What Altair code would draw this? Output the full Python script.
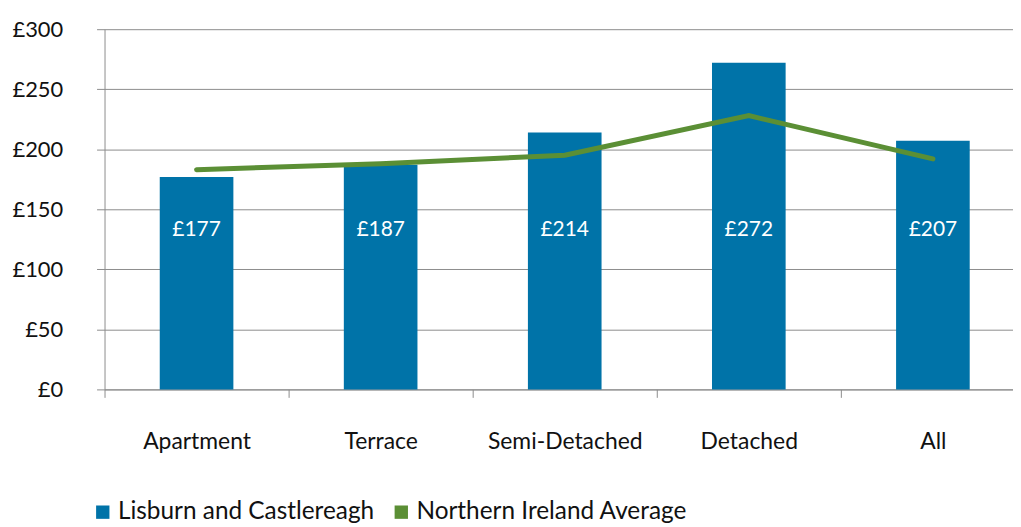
import altair as alt
import pandas as pd

categories = ["Apartment", "Terrace", "Semi-Detached", "Detached", "All"]
lisburn = [177, 187, 214, 272, 207]
ni_avg = [183, 188, 195, 228, 192]
series = ["Lisburn and Castlereagh", "Northern Ireland Average"]
y_ticks = [0, 50, 100, 150, 200, 250, 300]

FONT = "Lato"
BLUE = "#0073a8"
GREEN = "#5b8f35"

bars = pd.DataFrame({"cat": categories, "value": lisburn, "series": series[0]})
bars["label"] = ["£" + str(v) for v in lisburn]
line = pd.DataFrame({"cat": categories, "value": ni_avg, "series": series[1]})

x_enc = alt.X("cat:N", sort=categories, title=None,
              scale=alt.Scale(paddingInner=0, paddingOuter=0, range=[0, 925]),
              axis=alt.Axis(orient="bottom", labelAngle=0, tickBand="extent", labelFontSize=23,
                            labelPadding=33, tickSize=8, domainColor="#8c8c8c",
                            tickColor="#8c8c8c", labelColor="#111111", labelFont=FONT,
                            grid=False))
y_scale = alt.Scale(domain=[0, 300])
color = alt.Color("series:N",
                  scale=alt.Scale(domain=series, range=[BLUE, GREEN]),
                  legend=alt.Legend(title=None, orient="none", direction="horizontal",
                                    legendX=-14, legendY=473, symbolType="square",
                                    symbolSize=180, symbolStrokeWidth=0,
                                    labelFontSize=24.5, labelFont=FONT, labelColor="#111111",
                                    columnPadding=14, symbolOffset=0, labelOffset=3,
                                    labelLimit=400))

bar_layer = alt.Chart(bars).mark_bar(width=alt.RelativeBandSize(0.4)).encode(
    x=x_enc,
    y=alt.Y("value:Q", scale=y_scale, title=None,
            axis=alt.Axis(values=y_ticks, labelExpr="'£' + datum.value", labelFontSize=22,
                          labelFont=FONT, labelColor="#111111", labelPadding=34,
                          tickSize=8, tickColor="#8c8c8c", domainColor="#8c8c8c",
                          gridColor="#8c8c8c", gridWidth=1)),
    color=color,
)

text_layer = alt.Chart(bars).mark_text(color="white", fontSize=21, font=FONT).encode(
    x=alt.X("cat:N", sort=categories),
    y=alt.value(202),
    text=alt.Text("label:N"),
)

line_layer = alt.Chart(line).mark_line(strokeWidth=5, strokeCap="round").encode(
    x=alt.X("cat:N", sort=categories),
    y=alt.Y("value:Q", scale=y_scale),
    color=color,
)

chart = alt.layer(bar_layer, line_layer, text_layer).properties(
    width=913, height=362,
    autosize=alt.AutoSizeParams(type="none"),
    padding={"left": 97, "top": 20, "right": 0, "bottom": 140},
).configure_view(stroke=None).configure_axis(labelFont=FONT)

chart.save("out.html", embed_options={"renderer": "svg", "actions": False})
